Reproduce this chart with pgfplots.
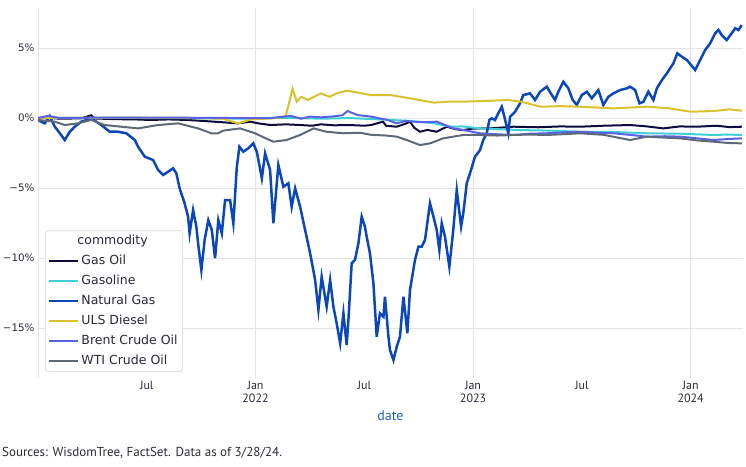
\documentclass[border=0pt]{standalone}
\usepackage{pgfplots}
\pgfplotsset{compat=1.18}
\usepackage{fontspec}
\setmainfont{DejaVu Sans}
\newfontfamily\ptsans{PT Sans}

\definecolor{gasoil}{HTML}{0D0B3E}
\definecolor{gasoline}{HTML}{3FCFD6}
\definecolor{natgas}{HTML}{0B47BA}
\definecolor{diesel}{HTML}{D9C22E}
\definecolor{brent}{HTML}{5A62E4}
\definecolor{wti}{HTML}{5E6977}
\definecolor{gridc}{HTML}{E1E5EA}
\definecolor{tickc}{HTML}{2A2A3A}
\definecolor{datec}{HTML}{2260C0}

\begin{document}
\begin{tikzpicture}
\begin{axis}[
  at={(38pt,88pt)}, anchor=south west,
  scale only axis, width=705pt, height=370pt,
  xmin=2021, xmax=2024.241, ymin=-18.57, ymax=7.86,
  axis line style={draw=none},
  major tick length=0pt,
  ytick={-15,-10,-5,0,5},
  yticklabels={−15\%,−10\%,−5\%,0\%,5\%},
  yticklabel style={font=\fontsize{10.3}{12}\selectfont, text=tickc},
  ymajorgrids,
  grid style={gridc, line width=1pt},
  xtick={2021.5,2022.5,2023.5},
  xticklabels={Jul,Jul,Jul},
  extra x ticks={2021,2022,2023,2024},
  extra x tick labels={,Jan\\2022,Jan\\2023,Jan\\2024},
  extra x tick style={grid=major, major tick length=0pt},
  xticklabel style={font=\ptsans\fontsize{12}{12.5}\selectfont, text=tickc, align=center},
  xlabel={date},
  xlabel style={font=\ptsans\fontsize{14}{15}\selectfont, text=datec,
    at={(axis description cs:0.5,0)}, anchor=center, yshift=-38pt},
  legend cell align=left,
  legend image code/.code={\draw[#1, line width=2pt] (0pt,0pt) -- (29pt,0pt);},
  legend style={at={(rel axis cs:0.0099,0.0162)}, anchor=south west,
    draw=gridc, line width=1pt, rounded corners=3pt, fill=white,
    font=\fontsize{12.5}{15}\selectfont, text=tickc,
    nodes={inner sep=2pt, text height=10pt, text depth=3pt},
    row sep=3pt},
]
\addlegendimage{empty legend}
\addlegendentry{\hspace*{-4pt}commodity}

% Gas Oil
\addplot[gasoil, line width=2pt] coordinates {
(2021.000,0) (2021.05,0.02) (2021.101,-0.05) (2021.20,-0.02) (2021.245,0.2) (2021.26,-0.03)
(2021.35,-0.08) (2021.45,-0.1) (2021.515,-0.14) (2021.60,-0.1) (2021.690,-0.14) (2021.80,-0.25)
(2021.920,-0.38) (2021.975,-0.26) (2022.02,-0.4) (2022.071,-0.5) (2022.14,-0.45) (2022.205,-0.5)
(2022.26,-0.55) (2022.301,-0.45) (2022.36,-0.52) (2022.434,-0.5) (2022.50,-0.55) (2022.531,-0.5)
(2022.586,-0.26) (2022.60,-0.55) (2022.649,-0.62) (2022.69,-0.4) (2022.710,-0.26) (2022.73,-0.7)
(2022.756,-0.98) (2022.79,-0.85) (2022.833,-0.98) (2022.879,-0.62) (2022.92,-0.8) (2022.955,-0.86)
(2023.0,-0.75) (2023.078,-0.74) (2023.185,-0.62) (2023.3,-0.66) (2023.4,-0.6) (2023.492,-0.62)
(2023.6,-0.55) (2023.722,-0.5) (2023.8,-0.6) (2023.875,-0.74) (2023.95,-0.6) (2024.029,-0.62)
(2024.12,-0.55) (2024.18,-0.65) (2024.236,-0.62)
};
\addlegendentry{Gas Oil}

% Gasoline
\addplot[gasoline, line width=2pt] coordinates {
(2021.000,0) (2021.2,0.02) (2021.515,0) (2021.8,-0.02) (2022.002,-0.05) (2022.1,0.02)
(2022.205,0) (2022.3,-0.05) (2022.434,0) (2022.5,-0.05) (2022.572,-0.1) (2022.7,-0.2)
(2022.816,-0.36) (2022.894,-0.62) (2022.95,-0.6) (2023.032,-0.74) (2023.12,-0.8) (2023.216,-0.86)
(2023.35,-0.9) (2023.492,-0.98) (2023.65,-1.0) (2023.799,-1.09) (2023.95,-1.12) (2024.105,-1.21)
(2024.17,-1.18) (2024.236,-1.21)
};
\addlegendentry{Gasoline}

% Natural Gas
\addplot[natgas, line width=2.5pt] coordinates {
(2021.000,-0.14) (2021.031,-0.38) (2021.054,0.14) (2021.077,-0.62) (2021.100,-1.07) (2021.123,-1.57)
(2021.146,-0.98) (2021.169,-0.62) (2021.199,-0.26) (2021.245,-0.02) (2021.291,-0.50) (2021.330,-0.98)
(2021.368,-0.98) (2021.406,-1.09) (2021.445,-1.57) (2021.460,-2.05) (2021.491,-2.76) (2021.529,-3.00)
(2021.552,-3.71) (2021.575,-4.07) (2021.598,-3.84) (2021.621,-3.59) (2021.636,-3.95) (2021.651,-5.02)
(2021.674,-6.09) (2021.690,-7.05) (2021.697,-8.24) (2021.713,-6.57) (2021.728,-7.76) (2021.736,-8.95)
(2021.751,-10.86) (2021.766,-8.71) (2021.783,-7.29) (2021.799,-8.00) (2021.814,-10.02) (2021.829,-7.29)
(2021.845,-8.24) (2021.860,-5.86) (2021.883,-5.86) (2021.898,-7.52) (2021.914,-3.48) (2021.926,-2.05)
(2021.944,-2.41) (2021.967,-2.16) (2021.990,-1.81) (2022.006,-2.41) (2022.029,-4.31) (2022.044,-2.52)
(2022.067,-3.71) (2022.082,-7.52) (2022.105,-3.36) (2022.128,-4.91) (2022.151,-4.66) (2022.166,-6.34)
(2022.182,-5.02) (2022.205,-6.34) (2022.228,-8.00) (2022.251,-9.66) (2022.274,-11.57) (2022.289,-13.71)
(2022.304,-11.34) (2022.327,-13.48) (2022.343,-11.57) (2022.358,-13.48) (2022.373,-14.66) (2022.389,-16.09)
(2022.404,-13.95) (2022.419,-16.21) (2022.427,-14.43) (2022.442,-10.38) (2022.457,-10.14) (2022.473,-8.95)
(2022.488,-7.05) (2022.503,-7.76) (2022.511,-8.48) (2022.526,-9.66) (2022.542,-11.81) (2022.557,-15.62)
(2022.572,-13.95) (2022.588,-14.19) (2022.595,-12.76) (2022.611,-15.62) (2022.618,-16.57) (2022.634,-17.29)
(2022.649,-16.34) (2022.664,-15.62) (2022.680,-12.76) (2022.698,-15.38) (2022.710,-12.29) (2022.733,-10.14)
(2022.749,-9.19) (2022.764,-9.19) (2022.779,-8.71) (2022.802,-6.09) (2022.818,-7.05) (2022.833,-8.00)
(2022.845,-9.43) (2022.856,-7.52) (2022.871,-8.48) (2022.891,-10.62) (2022.909,-8.00) (2022.925,-5.14)
(2022.945,-7.76) (2022.955,-6.81) (2022.971,-4.66) (2022.986,-3.95) (2023.009,-2.76) (2023.032,-2.29)
(2023.047,-1.57) (2023.063,-1.09) (2023.075,-0.14) (2023.086,-0.02) (2023.101,-0.14) (2023.116,0.34)
(2023.132,0.81) (2023.144,0.09) (2023.162,-1.09) (2023.170,0.09) (2023.193,0.45) (2023.216,1.05)
(2023.231,1.64) (2023.262,1.76) (2023.285,1.29) (2023.308,1.88) (2023.339,2.24) (2023.362,1.64)
(2023.377,1.29) (2023.392,1.88) (2023.415,2.59) (2023.438,2.12) (2023.458,1.29) (2023.477,0.93)
(2023.500,1.64) (2023.523,1.88) (2023.546,1.41) (2023.576,2.00) (2023.599,0.93) (2023.622,1.52)
(2023.645,1.76) (2023.676,2.00) (2023.707,2.12) (2023.722,2.24) (2023.745,2.00) (2023.765,1.05)
(2023.783,1.16) (2023.806,1.88) (2023.829,1.29) (2023.845,2.12) (2023.868,2.71) (2023.891,3.19)
(2023.921,3.91) (2023.939,4.62) (2023.960,4.38) (2023.983,4.14) (2024.002,3.79) (2024.021,3.43)
(2024.044,4.14) (2024.067,4.86) (2024.090,5.34) (2024.113,6.05) (2024.128,6.29) (2024.143,5.93)
(2024.166,5.57) (2024.189,6.05) (2024.205,6.41) (2024.220,6.29) (2024.235,6.64)
};
\addlegendentry{Natural Gas}

% ULS Diesel
\addplot[diesel, line width=2pt] coordinates {
(2021.000,0) (2021.3,0.02) (2021.5,0.02) (2021.7,0) (2021.85,-0.05) (2021.920,-0.38)
(2021.98,-0.1) (2022.1,0) (2022.14,0.17) (2022.17,2.1) (2022.19,1.17) (2022.21,1.52)
(2022.24,1.29) (2022.30,1.76) (2022.34,1.52) (2022.38,1.8) (2022.42,1.95) (2022.46,1.85)
(2022.53,1.64) (2022.62,1.64) (2022.71,1.41) (2022.82,1.10) (2022.89,1.17) (2022.96,1.17)
(2023.06,1.22) (2023.16,1.29) (2023.22,1.17) (2023.31,0.81) (2023.40,0.85) (2023.49,0.81)
(2023.645,0.69) (2023.80,0.81) (2023.90,0.7) (2024.0,0.45) (2024.105,0.5) (2024.18,0.62)
(2024.236,0.52)
};
\addlegendentry{ULS Diesel}

% Brent Crude Oil
\addplot[brent, line width=2pt] coordinates {
(2021.000,0) (2021.046,0.15) (2021.1,0) (2021.3,0.03) (2021.5,0.02) (2021.7,0.02)
(2021.9,0) (2022.071,0) (2022.12,0.08) (2022.163,0.15) (2022.209,-0.05) (2022.25,0.1)
(2022.3,0.05) (2022.36,0.12) (2022.4,0.2) (2022.423,0.5) (2022.469,0.21) (2022.531,0.1)
(2022.607,-0.14) (2022.649,-0.38) (2022.69,-0.2) (2022.725,-0.26) (2022.78,-0.3) (2022.833,-0.26)
(2022.910,-0.74) (2022.97,-0.9) (2023.032,-1.09) (2023.1,-1.15) (2023.185,-1.21) (2023.26,-1.12)
(2023.338,-1.09) (2023.42,-1.02) (2023.492,-0.98) (2023.57,-1.05) (2023.645,-1.09) (2023.72,-1.2)
(2023.799,-1.33) (2023.88,-1.3) (2023.952,-1.33) (2024.03,-1.45) (2024.105,-1.57) (2024.17,-1.5)
(2024.236,-1.45)
};
\addlegendentry{Brent Crude Oil}

% WTI Crude Oil
\addplot[wti, line width=2pt] coordinates {
(2021.000,-0.14) (2021.077,-0.26) (2021.123,-0.5) (2021.184,-0.38) (2021.245,-0.14) (2021.306,-0.5)
(2021.383,-0.62) (2021.460,-0.74) (2021.552,-0.5) (2021.644,-0.38) (2021.736,-0.74) (2021.797,-1.09)
(2021.828,-1.09) (2021.851,-0.9) (2021.929,-0.74) (2021.998,-1.09) (2022.04,-1.4) (2022.082,-1.69)
(2022.143,-1.57) (2022.205,-1.21) (2022.267,-0.74) (2022.326,-0.98) (2022.404,-1.09) (2022.480,-1.05)
(2022.531,-1.2) (2022.60,-1.25) (2022.649,-1.33) (2022.70,-1.6) (2022.756,-1.93) (2022.802,-1.81)
(2022.863,-1.45) (2022.955,-1.21) (2023.032,-1.21) (2023.11,-1.25) (2023.185,-1.21) (2023.26,-1.18)
(2023.338,-1.21) (2023.42,-1.15) (2023.492,-1.09) (2023.6,-1.2) (2023.722,-1.57) (2023.799,-1.33)
(2023.88,-1.4) (2023.952,-1.45) (2024.03,-1.6) (2024.105,-1.69) (2024.17,-1.78) (2024.236,-1.81)
};
\addlegendentry{WTI Crude Oil}
\end{axis}

\node[anchor=west, inner sep=0pt, text=tickc, font=\ptsans\fontsize{13}{15}\selectfont]
  at (2pt,13pt) {Sources: WisdomTree, FactSet. Data as of 3/28/24.};

\pgfresetboundingbox
\path (0,0) rectangle (746pt,466pt);
\end{tikzpicture}
\end{document}
